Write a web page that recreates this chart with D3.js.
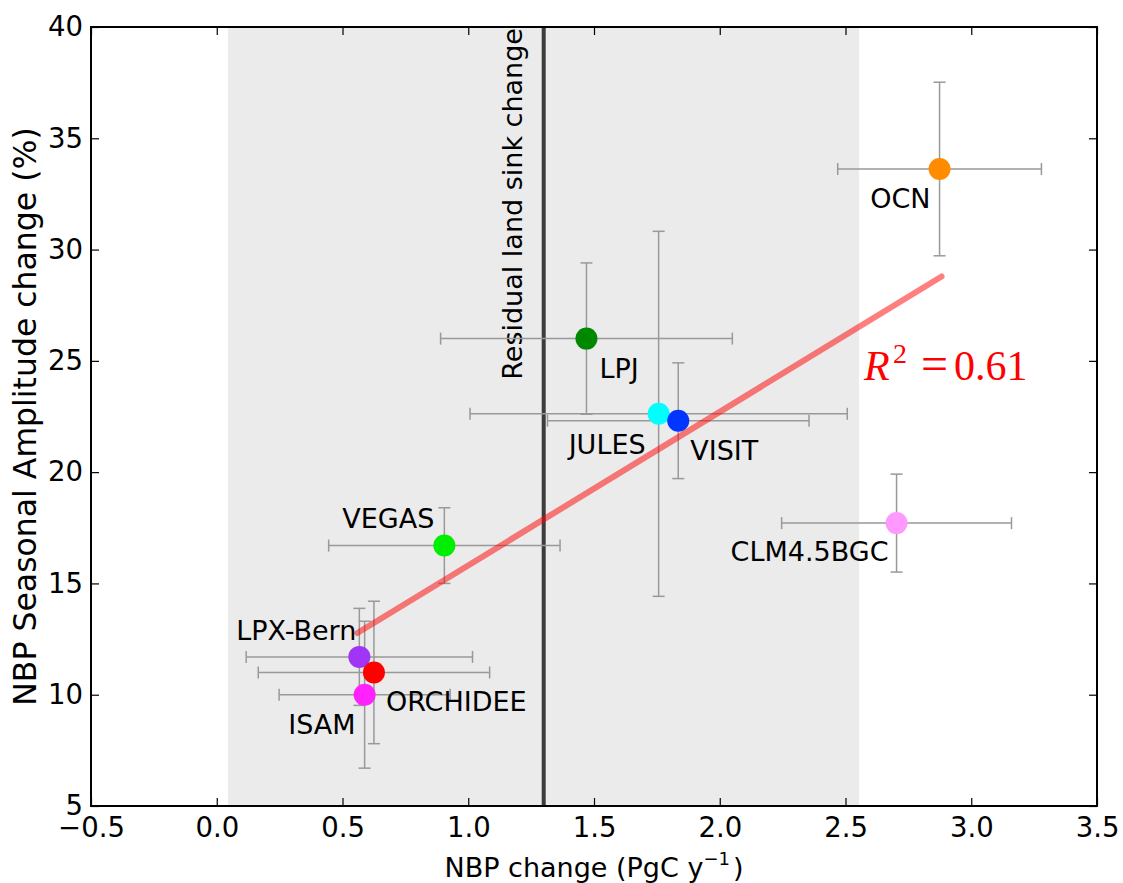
<!DOCTYPE html>
<html>
<head>
<meta charset="utf-8">
<script src="https://cdn.jsdelivr.net/npm/d3@7"></script>
<style>
  body { margin: 0; background: #fff; }
  svg text { font-family: "DejaVu Sans", sans-serif; }
</style>
</head>
<body>
<script>
// model results
var models = ["LPX-Bern", "ORCHIDEE", "ISAM", "VEGAS", "LPJ", "JULES", "VISIT", "CLM4.5BGC", "OCN"];
var nbpChange = [0.567, 0.625, 0.588, 0.905, 1.47, 1.757, 1.835, 2.703, 2.874];
var ampChange = [11.70, 11.0, 10.0, 16.7, 26.0, 22.62, 22.31, 17.71, 33.62];
var nbpErr = [0.45, 0.46, 0.34, 0.46, 0.58, 0.75, 0.52, 0.457, 0.405];
var ampErr = [2.18, 3.2, 3.3, 1.7, 3.4, 8.2, 2.6, 2.2, 3.9];
var colors = ["#a035f5", "#ff0000", "#ff22ff", "#00ee00", "#008800", "#00ffff", "#0036ff", "#ff99ff", "#ff8c00"];

// residual land sink and its range
var residualSink = 1.3;
var residualRange = [0.045, 2.554];

// fitted line end points
var fitX = [0.559, 2.882];
var fitY = [12.77, 28.79];

var xTicks = [-0.5, 0.0, 0.5, 1.0, 1.5, 2.0, 2.5, 3.0, 3.5];
var xTickLabels = ["\u22120.5", "0.0", "0.5", "1.0", "1.5", "2.0", "2.5", "3.0", "3.5"];
var yTicks = [5, 10, 15, 20, 25, 30, 35, 40];

// label placement relative to each marker: [dx, dy, anchor]
var labelPos = {
  "LPX-Bern": [-3, -17, "end"],
  "ORCHIDEE": [12, 39, "start"],
  "ISAM": [-9, 39, "end"],
  "VEGAS": [-10, -18, "end"],
  "LPJ": [13, 39, "start"],
  "JULES": [-13, 40, "end"],
  "VISIT": [12, 39, "start"],
  "CLM4.5BGC": [-8, 38, "end"],
  "OCN": [-9, 39, "end"]
};

var width = 1123, height = 883;
var margin = {left: 91, right: 26, top: 27, bottom: 77};
var fs = 27, tickFs = 27.5;

var data = models.map(function(m, i) {
  return {name: m, x: nbpChange[i], y: ampChange[i], ex: nbpErr[i], ey: ampErr[i], c: colors[i]};
});

var x = d3.scaleLinear().domain([-0.5, 3.5]).range([margin.left, width - margin.right]);
var y = d3.scaleLinear().domain([5, 40]).range([height - margin.bottom, margin.top]);

var svg = d3.select("body").append("svg").attr("width", width).attr("height", height);

// shaded range
svg.append("rect")
  .attr("x", x(residualRange[0])).attr("y", y(40))
  .attr("width", x(residualRange[1]) - x(residualRange[0]))
  .attr("height", y(5) - y(40))
  .attr("fill", "#ebebeb");

// residual sink line
svg.append("line")
  .attr("x1", x(residualSink)).attr("x2", x(residualSink))
  .attr("y1", y(40)).attr("y2", y(5))
  .attr("stroke", "#3c3c3c").attr("stroke-width", 4);

svg.append("text")
  .attr("transform", "translate(" + (x(residualSink) - 22) + "," + (y(40) + 1) + ") rotate(-90)")
  .attr("text-anchor", "end")
  .attr("font-size", fs)
  .text("Residual land sink change");

// error bars
var cap = 6;
var eb = svg.append("g").attr("stroke", "#999").attr("stroke-width", 1.5).attr("fill", "none");
data.forEach(function(d) {
  var g = eb.append("g");
  g.append("line").attr("x1", x(d.x - d.ex)).attr("x2", x(d.x + d.ex)).attr("y1", y(d.y)).attr("y2", y(d.y));
  g.append("line").attr("x1", x(d.x)).attr("x2", x(d.x)).attr("y1", y(d.y - d.ey)).attr("y2", y(d.y + d.ey));
  [d.x - d.ex, d.x + d.ex].forEach(function(v) {
    g.append("line").attr("x1", x(v)).attr("x2", x(v)).attr("y1", y(d.y) - cap).attr("y2", y(d.y) + cap);
  });
  [d.y - d.ey, d.y + d.ey].forEach(function(v) {
    g.append("line").attr("x1", x(d.x) - cap).attr("x2", x(d.x) + cap).attr("y1", y(v)).attr("y2", y(v));
  });
});

// regression line
var line = d3.line().x(function(d) { return x(d[0]); }).y(function(d) { return y(d[1]); });
svg.append("path")
  .attr("d", line(fitX.map(function(v, i) { return [v, fitY[i]]; })))
  .attr("stroke", "#ff0000").attr("stroke-opacity", 0.5)
  .attr("stroke-width", 6).attr("stroke-linecap", "round").attr("fill", "none");

// markers
svg.append("g").selectAll("circle").data(data).enter().append("circle")
  .attr("cx", function(d) { return x(d.x); })
  .attr("cy", function(d) { return y(d.y); })
  .attr("r", 11)
  .attr("fill", function(d) { return d.c; });

// labels
svg.append("g").selectAll("text").data(data).enter().append("text")
  .attr("x", function(d) { return x(d.x) + labelPos[d.name][0]; })
  .attr("y", function(d) { return y(d.y) + labelPos[d.name][1]; })
  .attr("text-anchor", function(d) { return labelPos[d.name][2]; })
  .attr("font-size", fs)
  .text(function(d) { return d.name; });

// R squared
var r2 = svg.append("text")
  .attr("y", 380)
  .attr("fill", "#ff0000")
  .style("font-family", "'Liberation Serif', serif")
  .attr("font-size", 42);
r2.append("tspan").attr("x", 864).attr("font-style", "italic").text("R");
r2.append("tspan").attr("x", 893).attr("font-size", 28).attr("dy", -17).text("2");
r2.append("tspan").attr("x", 921).attr("dy", 17).attr("font-size", 48).text("=");
r2.append("tspan").attr("x", 954).text("0.61");

// axes (ticks inside on all four sides)
var xAxis = d3.axisBottom(x).tickValues(xTicks).tickSizeInner(-8).tickSizeOuter(0).tickPadding(11)
  .tickFormat(function(d, i) { return xTickLabels[i]; });
var yAxis = d3.axisLeft(y).tickValues(yTicks).tickSizeInner(-8).tickSizeOuter(0).tickPadding(8)
  .tickFormat(d3.format("d"));

var gx = svg.append("g").attr("transform", "translate(0," + y(5) + ")").call(xAxis);
var gy = svg.append("g").attr("transform", "translate(" + x(-0.5) + ",0)").call(yAxis);
var gxt = svg.append("g").attr("transform", "translate(0," + y(40) + ")")
  .call(d3.axisTop(x).tickValues(xTicks).tickSizeInner(-8).tickSizeOuter(0).tickFormat(""));
var gyr = svg.append("g").attr("transform", "translate(" + x(3.5) + ",0)")
  .call(d3.axisRight(y).tickValues(yTicks).tickSizeInner(-8).tickSizeOuter(0).tickFormat(""));

[gx, gy, gxt, gyr].forEach(function(g) {
  g.select(".domain").remove();
  g.selectAll(".tick line").attr("stroke", "#000").attr("stroke-width", 1.2);
  g.selectAll(".tick text").attr("font-size", tickFs).attr("fill", "#000").style("font-family", "'DejaVu Sans', sans-serif");
});

// frame
svg.append("rect")
  .attr("x", x(-0.5)).attr("y", y(40))
  .attr("width", x(3.5) - x(-0.5)).attr("height", y(5) - y(40))
  .attr("fill", "none").attr("stroke", "#000").attr("stroke-width", 2);

// axis titles
var xt = svg.append("text")
  .attr("x", (x(-0.5) + x(3.5)) / 2).attr("y", 877)
  .attr("text-anchor", "middle").attr("font-size", fs);
xt.append("tspan").text("NBP change (PgC y");
xt.append("tspan").attr("font-size", 18).attr("dy", -12).text("\u22121");
xt.append("tspan").attr("dy", 12).attr("dx", 3).text(")");

svg.append("text")
  .attr("transform", "translate(36," + ((y(5) + y(40)) / 2) + ") rotate(-90)")
  .attr("text-anchor", "middle").attr("font-size", 31.5)
  .text("NBP Seasonal Amplitude change (%)");
</script>
</body>
</html>
